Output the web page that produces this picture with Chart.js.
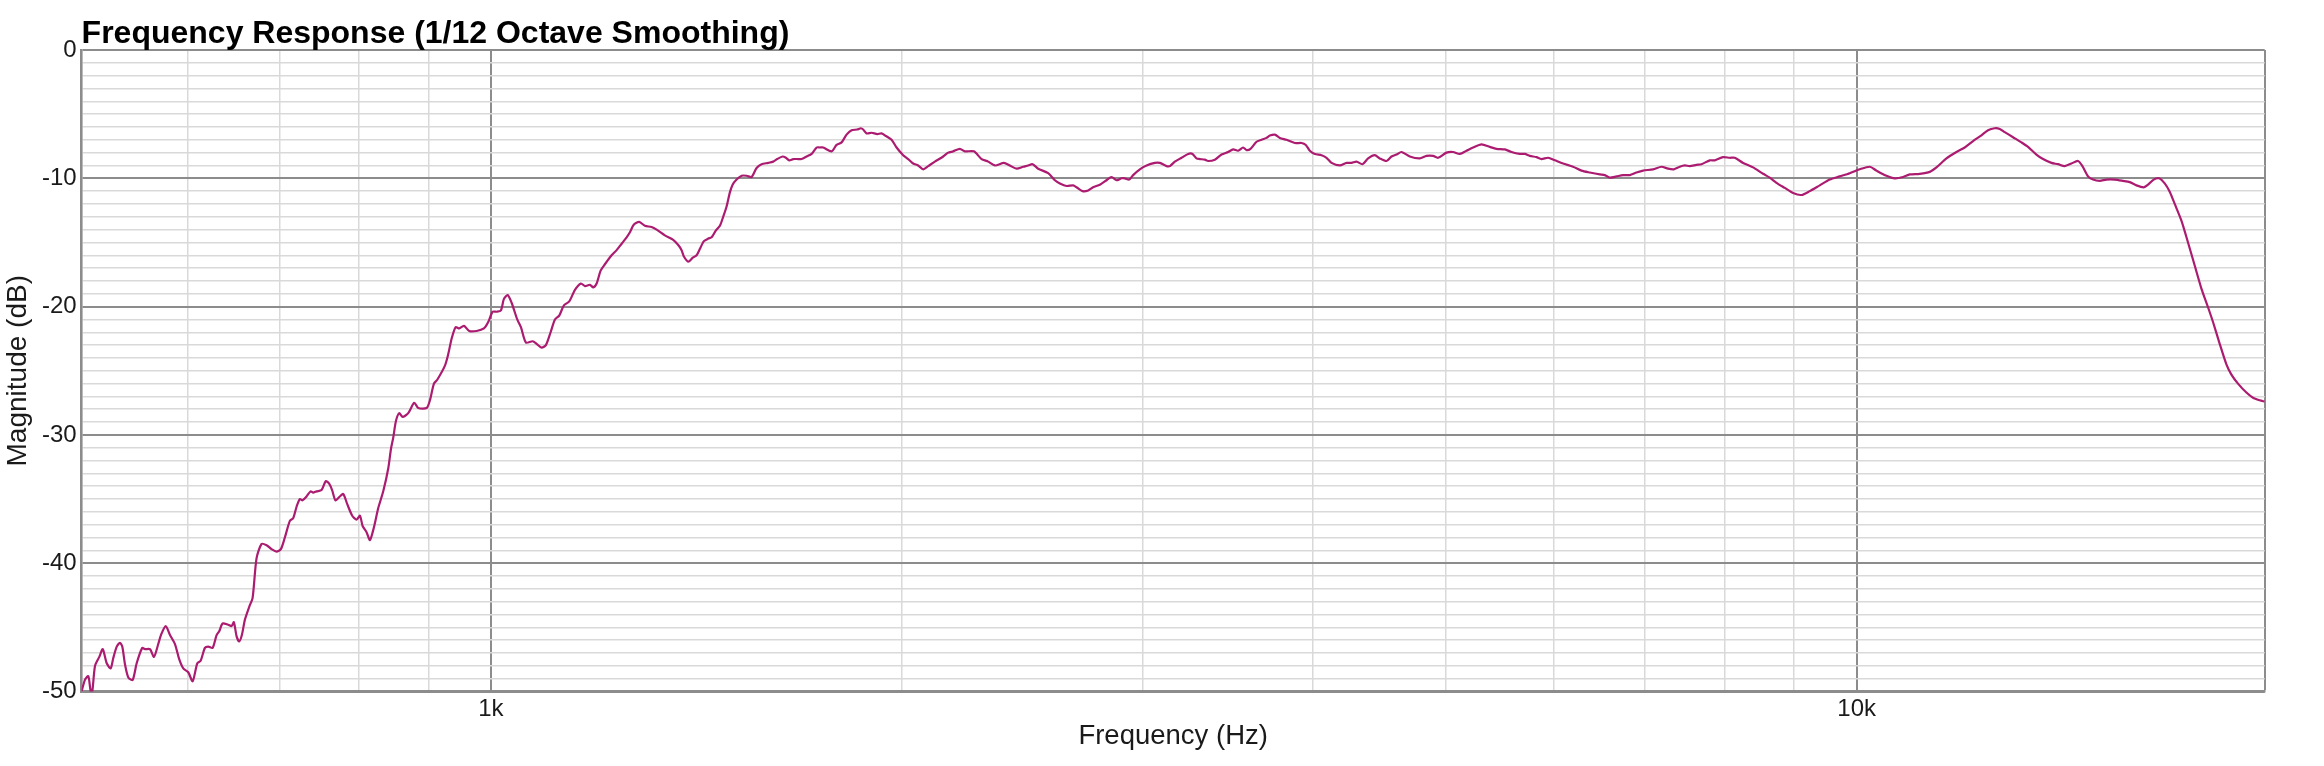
<!DOCTYPE html>
<html>
<head>
<meta charset="utf-8">
<script src="https://cdn.jsdelivr.net/npm/chart.js@4.4.1/dist/chart.umd.min.js"></script>
<style>
html,body{margin:0;padding:0;background:#ffffff;}
#wrap{width:2324px;height:766px;position:relative;}
</style>
</head>
<body>
<div id="wrap"><canvas id="c" width="2324" height="766"></canvas></div>
<script>
const chartTitle = 'Frequency Response (1/12 Octave Smoothing)';
const xAxisTitle = 'Frequency (Hz)';
const yAxisTitle = 'Magnitude (dB)';

const frequencyHz = [
501.6,504.5,507.3,509.4,510.7,513.1,516.8,519.8,523.3,526.8,529.1,532.2,535.1,537.2,539.7,542.7,546.7,550.4,555.6,558.2,
562.9,566.7,570.8,573.4,578.0,582.2,587.1,591.4,595.4,600.4,604.9,609.6,613.1,617.5,621.0,625.6,629.8,632.6,636.2,642.2,
645.9,648.4,651.4,654.3,657.2,660.6,665.4,669.2,673.7,679.4,685.2,690.9,696.8,701.9,706.6,712.6,716.6,720.7,724.7,728.0,
732.9,737.9,741.1,745.4,751.7,757.1,761.4,765.2,769.6,775.2,779.7,785.0,791.6,797.5,802.0,805.6,811.1,815.6,821.1,827.1,
834.1,841.2,845.0,848.3,852.2,856.9,861.8,870.0,878.9,884.8,897.4,902.4,908.5,913.6,925.5,930.7,936.0,942.4,948.1,955.6,
964.2,976.3,988.4,995.6,1003.0,1009.8,1017.1,1022.3,1028.7,1035.6,1045.5,1052.0,1060.9,1073.0,1080.2,1089.4,1097.3,1106.0,1114.1,1122.2,
1131.1,1141.3,1152.3,1164.0,1171.9,1181.8,1188.4,1195.2,1203.3,1212.0,1225.8,1236.2,1246.7,1257.2,1264.2,1272.8,1284.2,1296.6,1311.3,1322.4,
1341.0,1359.9,1371.5,1379.3,1384.7,1394.8,1405.1,1414.7,1422.6,1432.2,1442.6,1450.9,1460.7,1471.3,1479.5,1488.0,1496.3,1503.2,1513.3,1526.2,
1539.1,1552.1,1565.2,1578.5,1596.1,1609.6,1620.5,1635.3,1644.5,1653.6,1664.8,1678.9,1688.6,1702.9,1717.3,1731.8,1741.5,1751.2,1776.2,1791.2,
1806.4,1821.6,1837.0,1854.5,1866.1,1873.3,1884.1,1900.0,1918.1,1932.4,1946.4,1965.2,1981.8,2004.0,2021.0,2038.1,2055.3,2072.8,2090.3,2114.0,
2143.8,2162.0,2180.3,2205.0,2223.7,2257.7,2287.2,2312.8,2339.0,2374.8,2398.9,2426.2,2453.3,2474.1,2492.5,2516.1,2558.9,2588.0,2609.9,2639.5,
2669.0,2684.4,2711.6,2737.4,2760.5,2791.9,2823.6,2847.5,2871.6,2895.9,2912.1,2933.3,2953.1,2986.6,3020.6,3063.1,3089.0,3124.1,3141.6,3168.1,
3204.1,3240.0,3264.1,3286.2,3304.5,3332.5,3351.1,3389.1,3427.6,3466.0,3495.3,3524.9,3554.7,3575.1,3599.3,3635.9,3666.7,3697.7,3718.4,3749.8,
3781.6,3824.5,3878.4,3922.4,3951.0,3977.7,4011.4,4057.0,4091.3,4125.9,4184.0,4231.6,4267.4,4303.5,4347.2,4388.5,4438.3,4475.9,4526.7,4565.1,
4603.7,4642.7,4708.1,4788.1,4842.5,4896.7,4938.1,5008.5,5064.6,5122.1,5180.3,5238.2,5312.9,5387.8,5449.0,5525.8,5588.5,5667.2,5715.2,5763.6,
5829.0,5878.4,5944.2,6011.7,6096.4,6200.0,6288.4,6377.0,6485.4,6540.4,6595.7,6670.6,6745.3,6821.9,6899.4,6976.5,7095.1,7196.3,7276.8,7347.1,
7421.8,7484.6,7547.9,7633.7,7698.3,7806.8,7872.8,7983.8,8074.4,8142.8,8257.5,8397.9,8540.6,8637.6,8735.7,8858.8,8983.6,9111.7,9240.1,9397.2,
9556.9,9719.3,9884.5,10052.5,10223.5,10339.6,10515.3,10663.5,10813.7,10936.6,11122.5,11311.5,11440.1,11634.5,11832.3,11999.0,12168.0,12341.5,12479.5,12621.4,
12728.2,12835.8,13016.7,13202.3,13350.1,13540.4,13691.9,13887.1,14042.5,14202.0,14363.4,14524.0,14632.2,14771.0,14896.0,15065.1,15236.3,15451.0,15668.7,15846.6,
16026.7,16225.0,16343.1,16500.9,16649.1,16809.7,16952.0,17095.5,17289.6,17483.1,17681.6,17882.4,18082.5,18235.6,18442.6,18652.2,18810.1,19020.4,19291.7,19507.6,
19729.1,19896.1
];

const magnitudeDb = [
-50,-49.07,-48.8,-50,-50,-48.0,-47.3,-46.7,-47.8,-48.2,-47.4,-46.5,-46.2,-46.5,-47.9,-48.9,-49.1,-47.8,-46.6,-46.7,
-46.7,-47.3,-46.3,-45.6,-44.9,-45.6,-46.3,-47.5,-48.2,-48.5,-49.2,-47.8,-47.6,-46.6,-46.5,-46.6,-45.6,-45.3,-44.7,-44.8,
-44.9,-44.6,-45.7,-46.1,-45.6,-44.4,-43.4,-42.7,-39.6,-38.5,-38.6,-38.9,-39.1,-38.9,-38.0,-36.7,-36.5,-35.6,-35.0,-35.1,
-34.8,-34.4,-34.5,-34.4,-34.3,-33.6,-33.8,-34.3,-35.1,-34.8,-34.6,-35.4,-36.3,-36.6,-36.3,-37.1,-37.6,-38.2,-37.2,-35.7,
-34.4,-32.6,-31.1,-30.2,-28.9,-28.3,-28.6,-28.3,-27.5,-27.9,-27.9,-27.3,-26.0,-25.7,-24.6,-23.7,-22.5,-21.6,-21.7,-21.5,
-21.9,-21.9,-21.7,-21.2,-20.4,-20.4,-20.3,-19.4,-19.1,-19.7,-21.0,-21.6,-22.8,-22.7,-22.9,-23.2,-23.0,-22.0,-21.0,-20.7,
-19.9,-19.6,-18.7,-18.2,-18.4,-18.3,-18.5,-18.2,-17.2,-16.7,-16.0,-15.6,-15.1,-14.6,-14.2,-13.6,-13.4,-13.7,-13.8,-14.0,
-14.45,-14.8,-15.2,-15.6,-16.1,-16.5,-16.2,-16.0,-15.5,-14.9,-14.7,-14.6,-14.1,-13.7,-13.0,-12.2,-11.1,-10.5,-10.1,-9.8,
-9.8,-9.9,-9.2,-8.9,-8.8,-8.7,-8.5,-8.3,-8.4,-8.6,-8.5,-8.5,-8.5,-8.3,-8.1,-7.6,-7.6,-7.6,-7.9,-7.4,
-7.2,-6.6,-6.25,-6.2,-6.1,-6.2,-6.5,-6.45,-6.55,-6.5,-6.7,-7.0,-7.6,-8.2,-8.5,-8.85,-9.0,-9.3,-9.05,-8.7,
-8.3,-8.0,-7.9,-7.7,-7.9,-7.9,-8.5,-8.7,-9.0,-8.8,-9.0,-9.25,-9.1,-9.0,-8.9,-9.25,-9.6,-10.15,-10.4,-10.6,
-10.55,-10.7,-11.0,-10.95,-10.7,-10.5,-10.15,-9.9,-10.15,-10.0,-10.0,-10.1,-9.75,-9.3,-9.0,-8.8,-8.8,-9.05,-9.05,-8.7,
-8.4,-8.1,-8.1,-8.45,-8.5,-8.55,-8.65,-8.55,-8.15,-7.95,-7.75,-7.85,-7.6,-7.8,-7.7,-7.15,-7.0,-6.85,-6.67,-6.6,
-6.85,-7.0,-7.25,-7.25,-7.4,-7.85,-8.1,-8.2,-8.4,-8.8,-9.0,-8.8,-8.8,-8.7,-8.9,-8.45,-8.2,-8.45,-8.65,-8.3,
-8.15,-7.95,-8.3,-8.45,-8.25,-8.25,-8.4,-8.0,-7.95,-8.1,-7.85,-7.6,-7.35,-7.55,-7.7,-7.75,-7.95,-8.1,-8.1,-8.25,
-8.35,-8.5,-8.4,-8.6,-8.85,-9.1,-9.4,-9.55,-9.7,-9.75,-9.95,-9.85,-9.75,-9.75,-9.55,-9.4,-9.3,-9.1,-9.25,-9.3,
-9.1,-9.0,-9.05,-8.95,-8.9,-8.6,-8.6,-8.35,-8.4,-8.4,-8.8,-9.15,-9.65,-9.95,-10.35,-10.75,-11.15,-11.3,-11.0,-10.55,
-10.1,-9.85,-9.6,-9.3,-9.1,-9.4,-9.8,-10.0,-9.9,-9.7,-9.65,-9.5,-9.15,-8.45,-7.95,-7.6,-7.1,-6.65,-6.25,-6.1,
-6.15,-6.4,-6.8,-7.2,-7.55,-8.15,-8.5,-8.8,-8.9,-9.05,-8.85,-8.65,-9.05,-9.85,-10.1,-10.2,-10.1,-10.1,-10.2,-10.3,
-10.55,-10.7,-10.5,-10.1,-10.0,-10.4,-11.05,-12.0,-13.3,-15.0,-16.8,-18.6,-20.05,-21.2,-22.9,-24.5,-25.3,-26.0,-26.7,-27.1,
-27.3,-27.4
];

const xRangeHz = [501.6, 19896];
const yRangeDb = [-50, 0];
const xGridHz = [600, 700, 800, 900, 1000, 2000, 3000, 4000, 5000, 6000, 7000, 8000, 9000, 10000];
const xMajorHz = [1000, 10000];
const xLabelHz = [1000, 10000];
const xLabelText = ['1k', '10k'];
const yGridStepDb = 1;
const yLabelStepDb = 10;

const FONT = '"Liberation Sans", Arial, Helvetica, sans-serif';
const MAJOR = '#8c8c8c';
const MINOR = '#d9d9d9';
const LINE = '#ab1b70';
const TEXT = '#1a1a1a';

const titlePlugin = {
  id: 'leftTitle',
  afterDraw(chart) {
    const ctx = chart.ctx;
    ctx.save();
    ctx.font = 'bold 32px ' + FONT;
    ctx.fillStyle = '#000';
    ctx.textAlign = 'left';
    ctx.textBaseline = 'alphabetic';
    ctx.fillText(chartTitle, chart.chartArea.left, 43);
    ctx.restore();
  }
};

const points = frequencyHz.map((f, i) => ({x: f, y: magnitudeDb[i]}));

new Chart(document.getElementById('c'), {
  type: 'line',
  data: {
    datasets: [{
      data: points,
      borderColor: LINE,
      borderWidth: 2.2,
      pointRadius: 0,
      tension: 0.25,
      fill: false,
      borderJoinStyle: 'round'
    }]
  },
  options: {
    responsive: false,
    animation: false,
    devicePixelRatio: 1,
    layout: {padding: {top: 50, right: 59.3, left: 0, bottom: 0}},
    plugins: {
      legend: {display: false},
      tooltip: {enabled: false},
      title: {display: false}
    },
    scales: {
      x: {
        type: 'logarithmic',
        min: xRangeHz[0],
        max: xRangeHz[1],
        afterBuildTicks: (s) => {
          s.ticks = [xRangeHz[0], ...xGridHz, xRangeHz[1]].map(v => ({value: v}));
        },
        afterFit: (s) => { s.height = 74.5; },
        ticks: {
          autoSkip: false,
          maxRotation: 0,
          minRotation: 0,
          padding: 3,
          color: TEXT,
          font: {family: FONT, size: 24},
          callback: (v) => {
            const i = xLabelHz.indexOf(v);
            return i >= 0 ? xLabelText[i] : '';
          }
        },
        grid: {
          drawTicks: false,
          color: (c) => {
            const v = c.tick ? c.tick.value : 0;
            return (xMajorHz.includes(v) || v === xRangeHz[1]) ? MAJOR : MINOR;
          },
          lineWidth: (c) => {
            const v = c.tick ? c.tick.value : 0;
            return (xMajorHz.includes(v) || v === xRangeHz[1]) ? 2 : 1.5;
          }
        },
        border: {display: true, color: MAJOR, width: 2.5},
        title: {
          display: true,
          text: xAxisTitle,
          color: TEXT,
          font: {family: FONT, size: 27.5},
          padding: {top: 0, bottom: 13.5}
        }
      },
      y: {
        min: yRangeDb[0],
        max: yRangeDb[1],
        afterFit: (s) => { s.width = 81.6; },
        ticks: {
          stepSize: yGridStepDb,
          autoSkip: false,
          padding: 5,
          color: TEXT,
          font: {family: FONT, size: 24},
          callback: (v) => (Math.round(v) % yLabelStepDb === 0 ? String(Math.round(v)) : '')
        },
        grid: {
          drawTicks: false,
          color: (c) => {
            const v = c.tick ? Math.round(c.tick.value) : 1;
            return v % yLabelStepDb === 0 ? MAJOR : MINOR;
          },
          lineWidth: (c) => {
            const v = c.tick ? Math.round(c.tick.value) : 1;
            return v % yLabelStepDb === 0 ? 2 : 1.5;
          }
        },
        border: {display: true, color: MAJOR, width: 2.5},
        title: {
          display: true,
          text: yAxisTitle,
          color: TEXT,
          font: {family: FONT, size: 28},
          padding: {top: 1, bottom: 0}
        }
      }
    }
  },
  plugins: [titlePlugin]
});
</script>
</body>
</html>
